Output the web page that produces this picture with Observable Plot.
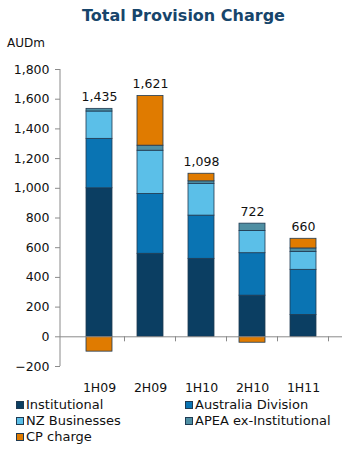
<!DOCTYPE html>
<html>
<head>
<meta charset="utf-8">
<script src="https://cdn.jsdelivr.net/npm/d3@7"></script>
<script src="https://cdn.jsdelivr.net/npm/@observablehq/plot@0.6"></script>
<style>
  html, body { margin: 0; padding: 0; background: #fff; }
  body { width: 350px; height: 458px; position: relative; font-family: "DejaVu Sans", Verdana, sans-serif; color: #111; overflow: hidden; }
  #title { position: absolute; left: 0; top: 8px; width: 367px; text-align: center; font-size: 16px; line-height: 16px; font-weight: bold; color: #17456b; }
  #unit { position: absolute; left: 7px; top: 37px; font-size: 12px; line-height: 12px; }
  #chart { position: absolute; left: 0; top: 34px; }
  #legend { position: absolute; left: 16px; top: 397px; width: 334px; display: grid; grid-template-columns: 169px 165px; font-size: 13px; line-height: 16px; }
  .item { display: flex; align-items: center; white-space: nowrap; }
  .sw { width: 8px; height: 8px; margin-right: 2px; box-sizing: border-box; border: 1px solid #1f3a52; }
</style>
</head>
<body>
<div id="title">Total Provision Charge</div>
<div id="unit">AUDm</div>
<div id="chart"></div>
<div id="legend"></div>
<script>
const periods = ["1H09", "2H09", "1H10", "2H10", "1H11"];
const seriesNames = ["Institutional", "Australia Division", "NZ Businesses", "APEA ex-Institutional", "CP charge"];
const institutional = [1000, 559, 525, 277, 147];
const australiaDivision = [333, 403, 291, 286, 304];
const nzBusinesses = [184, 291, 214, 150, 121];
const apea = [18, 34, 17, 49, 23];
const cpCharge = [-100, 334, 51, -40, 65];
const totals = [1435, 1621, 1098, 722, 660];
const yTicks = [-200, 0, 200, 400, 600, 800, 1000, 1200, 1400, 1600, 1800];
const colors = ["#0b3e62", "#0a74b3", "#5bbfe8", "#4f8fa3", "#e07b00"];

const seriesValues = [institutional, australiaDivision, nzBusinesses, apea, cpCharge];
const rows = [];
seriesNames.forEach((s, si) => {
  periods.forEach((p, pi) => rows.push({period: p, series: s, value: seriesValues[si][pi]}));
});
const labelRows = periods.map((p, pi) => ({
  period: p,
  top: seriesValues.reduce((a, arr) => a + Math.max(0, arr[pi]), 0),
  text: d3.format(",")(totals[pi])
}));

const chart = Plot.plot({
  width: 350,
  height: 362,
  marginLeft: 60,
  marginRight: 8,
  marginTop: 35,
  marginBottom: 30,
  style: {fontFamily: "DejaVu Sans, Verdana, sans-serif", fontSize: "12.5px", color: "#111", background: "transparent", overflow: "visible"},
  x: {domain: periods, padding: 0.5, label: null},
  y: {domain: [-200, 1800], label: null},
  color: {domain: seriesNames, range: colors},
  marks: [
    Plot.barY(rows, {x: "period", y: "value", fill: "series", stroke: "#1f3a52", strokeWidth: 0.8}),
    Plot.ruleY([0], {stroke: "#8a8a8a", strokeWidth: 1}),
    Plot.axisY({ticks: yTicks, tickFormat: d3.format(","), tickSize: 5, tickPadding: 6, stroke: "#8a8a8a", label: null}),
    Plot.axisX({tickSize: 0, tickPadding: 17, label: null}),
    Plot.text(labelRows, {x: "period", y: "top", text: "text", lineAnchor: "bottom", dy: -8, fontSize: 12.5, fill: "#111"})
  ]
});
document.getElementById("chart").appendChild(chart);

// y axis line and band-boundary ticks on the zero line, from the scales
const xs = chart.scale("x");
const ys = chart.scale("y");
const svg = d3.select(chart);
const left = xs.range[0];
svg.append("line")
  .attr("x1", left).attr("x2", left)
  .attr("y1", ys.apply(1800)).attr("y2", ys.apply(-200))
  .attr("stroke", "#8a8a8a");
const y0 = ys.apply(0);
const gap = (xs.step - xs.bandwidth) / 2;
const bounds = periods.map(p => xs.apply(p) - gap).concat([xs.apply(periods[periods.length - 1]) + xs.bandwidth + gap]);
bounds.slice(1).forEach(b => {
  svg.append("line").attr("x1", b).attr("x2", b).attr("y1", y0).attr("y2", y0 + 5).attr("stroke", "#8a8a8a");
});

// legend
const legend = document.getElementById("legend");
seriesNames.forEach((s, i) => {
  const it = document.createElement("div");
  it.className = "item";
  it.innerHTML = `<span class="sw" style="background:${colors[i]}"></span><span>${s}</span>`;
  legend.appendChild(it);
});
</script>
</body>
</html>
